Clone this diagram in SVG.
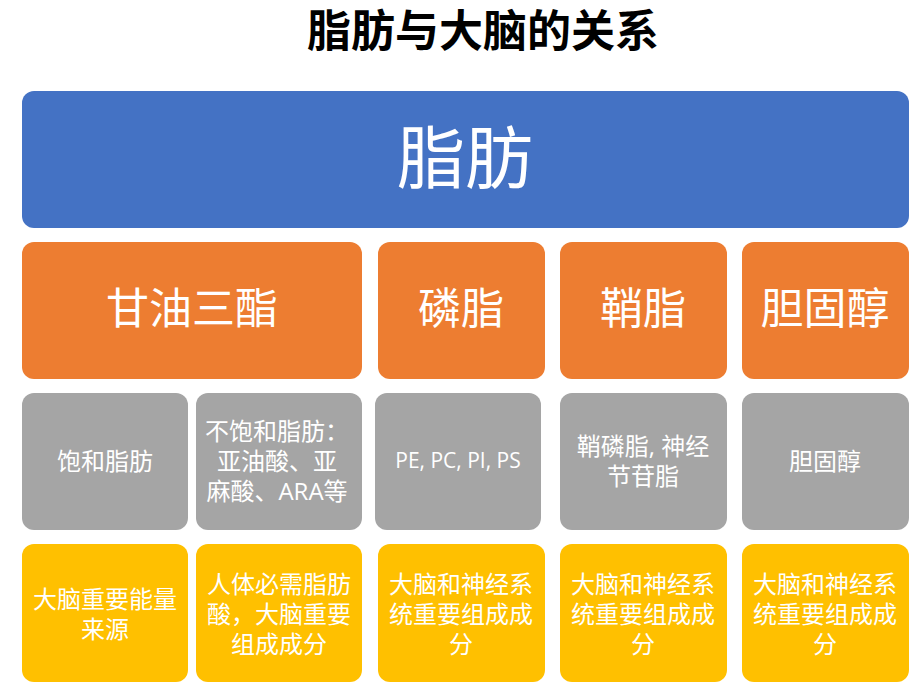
<svg xmlns="http://www.w3.org/2000/svg" width="919" height="693" viewBox="0 0 919 693">
<style>
text{font-family:"Open Sans","Noto Sans CJK SC",sans-serif;fill:#fff;text-anchor:middle;dominant-baseline:central}
.title{fill:#000;font-weight:bold;font-size:44px}
.blue{fill:#4472C4}.orange{fill:#ED7D31}.grey{fill:#A5A5A5}.yellow{fill:#FFC000}
.big{font-size:68px}.mid{font-size:43px}.sm{font-size:24px}
</style>
<rect width="919" height="693" fill="#fff"/>
<text class="title" x="483" y="30">脂肪与大脑的关系</text>
<g id="fat"><rect class="blue" x="22" y="91" width="887" height="137" rx="12"/><text class="big" x="465" y="156">脂肪</text></g>
<g id="triglyceride"><rect class="orange" x="22" y="242" width="340" height="137" rx="12"/><text class="mid" x="192" y="307">甘油三酯</text></g>
<g id="phospholipid"><rect class="orange" x="378" y="242" width="167" height="137" rx="12"/><text class="mid" x="461" y="307">磷脂</text></g>
<g id="sphingolipid"><rect class="orange" x="560" y="242" width="167" height="137" rx="12"/><text class="mid" x="643" y="307">鞘脂</text></g>
<g id="cholesterol"><rect class="orange" x="742" y="242" width="167" height="137" rx="12"/><text class="mid" x="825" y="307">胆固醇</text></g>
<g id="saturated"><rect class="grey" x="22" y="393" width="166" height="137" rx="12"/><text class="sm" x="105" y="460">饱和脂肪</text></g>
<g id="unsaturated"><rect class="grey" x="196" y="393" width="166" height="137" rx="12"/><text class="sm" x="277" y="430">不饱和脂肪：</text><text class="sm" x="277" y="460">亚油酸、亚</text><text class="sm" x="277" y="490">麻酸、ARA等</text></g>
<g id="pe"><rect class="grey" x="375" y="393" width="166" height="137" rx="12"/><text class="sm" x="458" y="460" style="font-size:21px">PE, PC, PI, PS</text></g>
<g id="sphingomyelin"><rect class="grey" x="560" y="393" width="167" height="137" rx="12"/><text class="sm" x="643" y="445">鞘磷脂, 神经</text><text class="sm" x="643" y="475">节苷脂</text></g>
<g id="cholesterol2"><rect class="grey" x="742" y="393" width="167" height="137" rx="12"/><text class="sm" x="825" y="460">胆固醇</text></g>
<g id="energy"><rect class="yellow" x="22" y="544" width="166" height="138" rx="12"/><text class="sm" x="105" y="598">大脑重要能量</text><text class="sm" x="105" y="628">来源</text></g>
<g id="essential"><rect class="yellow" x="196" y="544" width="166" height="138" rx="12"/><text class="sm" x="279" y="583">人体必需脂肪</text><text class="sm" x="279" y="613">酸，大脑重要</text><text class="sm" x="279" y="643">组成成分</text></g>
<g id="brain1"><rect class="yellow" x="378" y="544" width="167" height="138" rx="12"/><text class="sm" x="461" y="583">大脑和神经系</text><text class="sm" x="461" y="613">统重要组成成</text><text class="sm" x="461" y="643">分</text></g>
<g id="brain2"><rect class="yellow" x="560" y="544" width="167" height="138" rx="12"/><text class="sm" x="643" y="583">大脑和神经系</text><text class="sm" x="643" y="613">统重要组成成</text><text class="sm" x="643" y="643">分</text></g>
<g id="brain3"><rect class="yellow" x="742" y="544" width="167" height="138" rx="12"/><text class="sm" x="825" y="583">大脑和神经系</text><text class="sm" x="825" y="613">统重要组成成</text><text class="sm" x="825" y="643">分</text></g>
</svg>
